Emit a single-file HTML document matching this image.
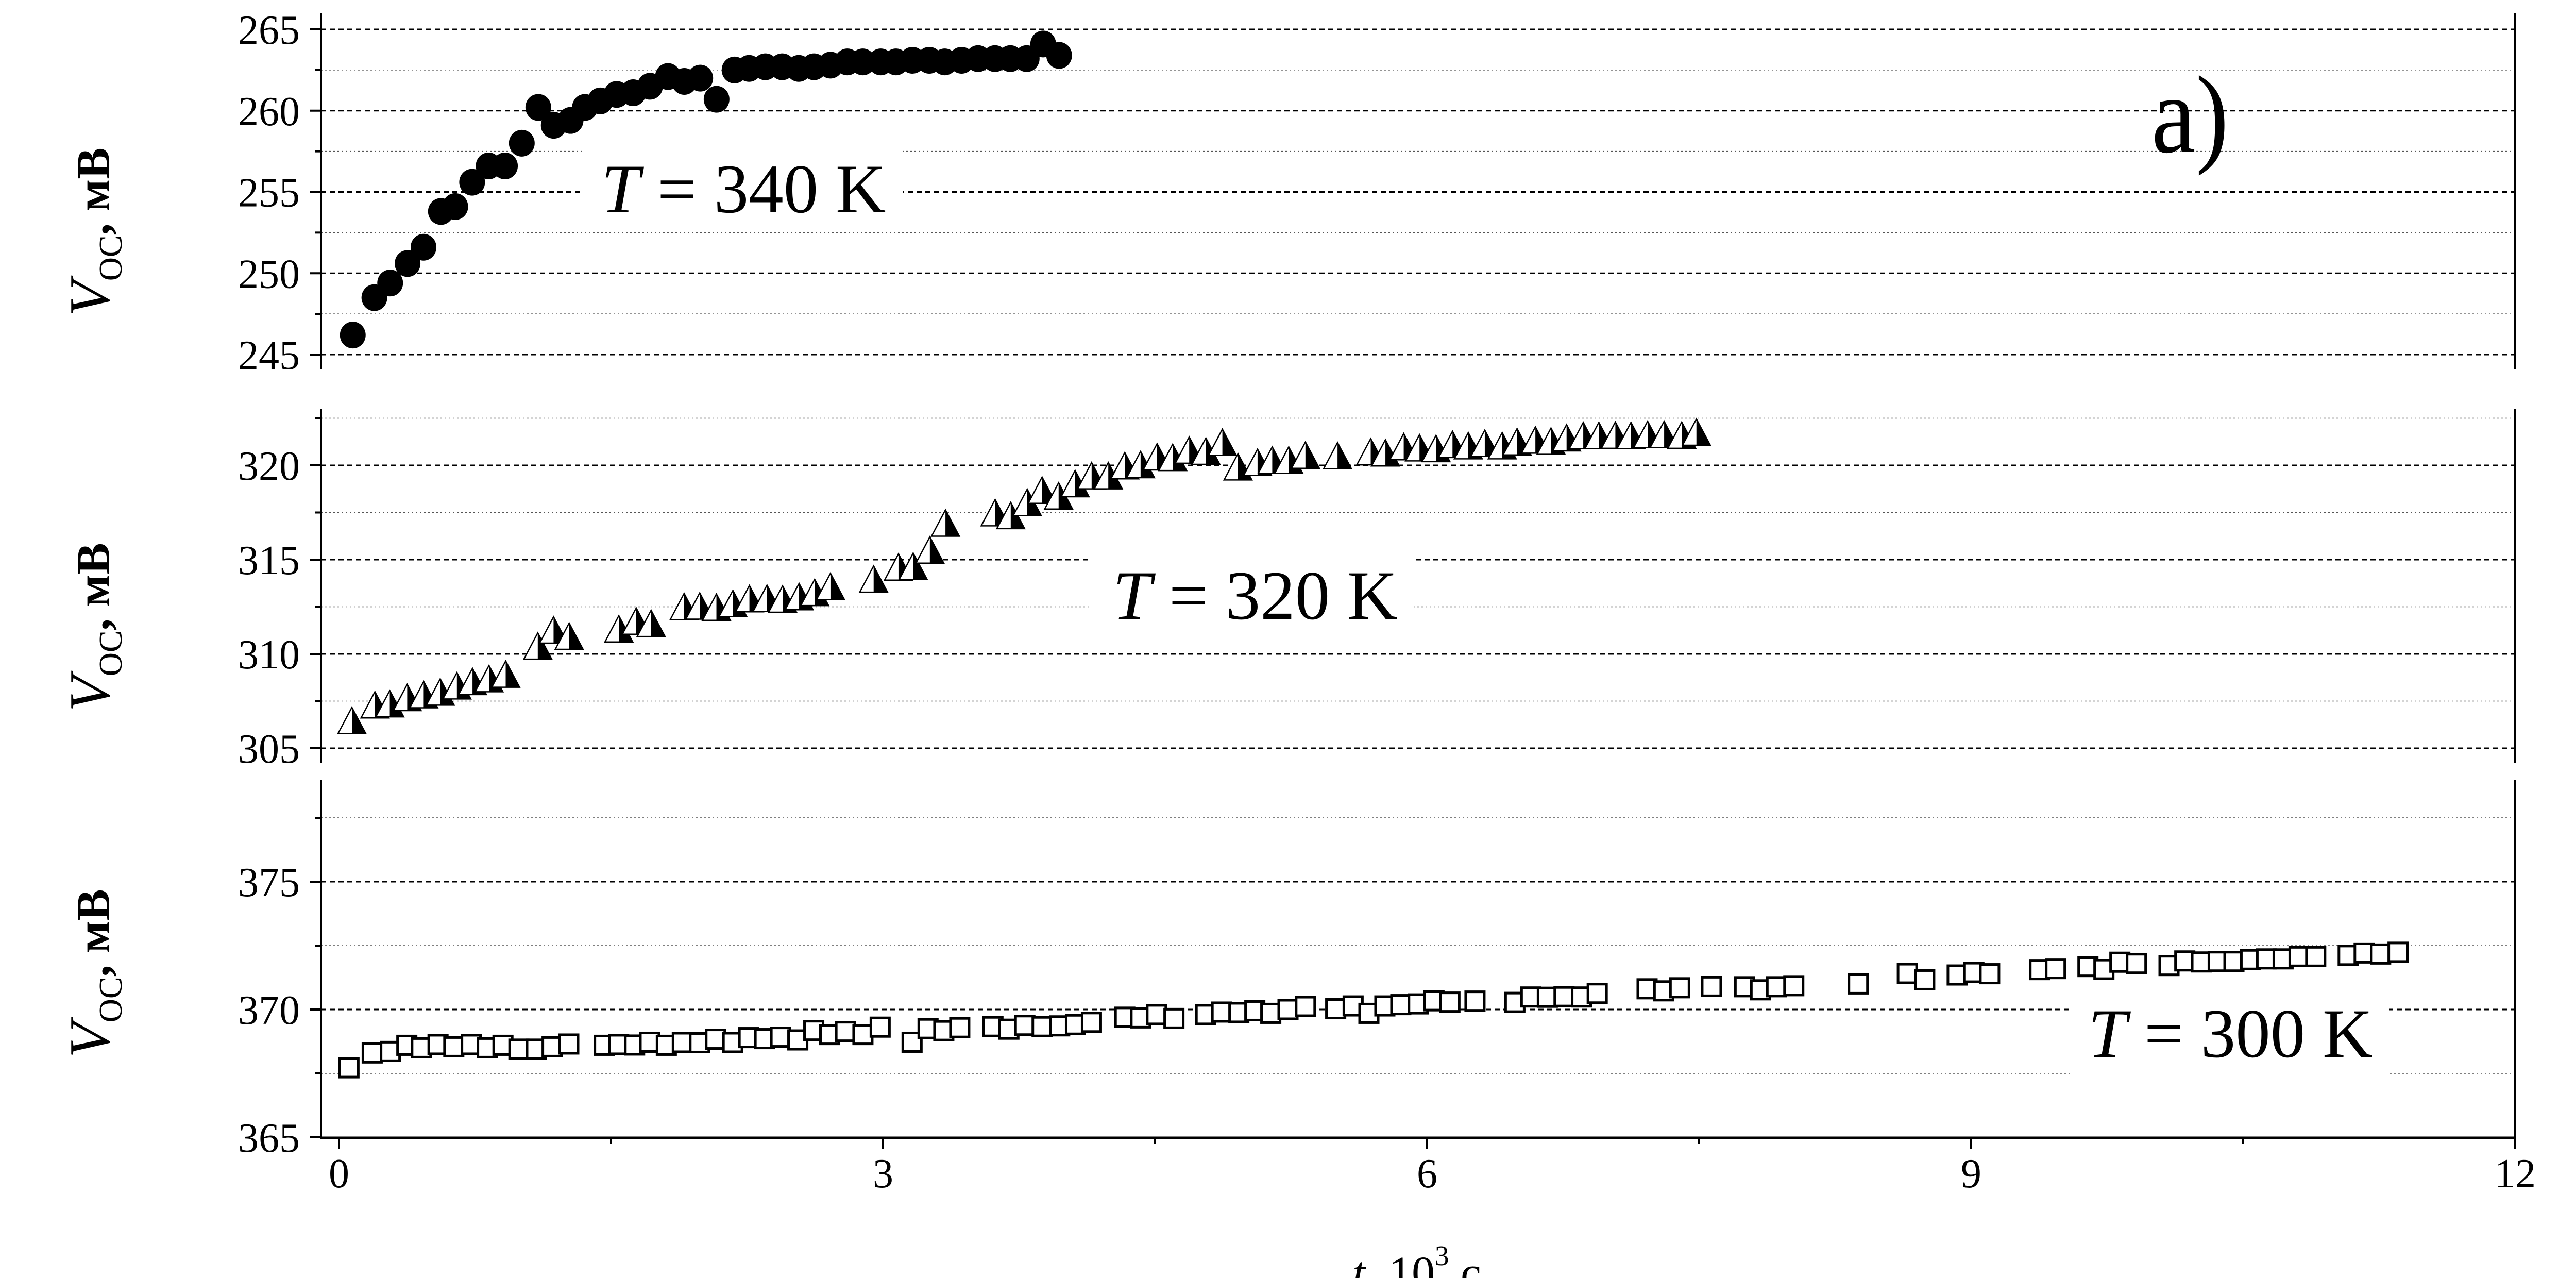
<!DOCTYPE html>
<html><head><meta charset="utf-8"><style>
html,body{margin:0;padding:0;background:#fff;}
svg{display:block;font-family:"Liberation Serif","Noto Serif CJK SC",serif;}
</style></head><body>
<svg id="chart" width="5196" height="2480" viewBox="0 0 5196 2480" xmlns="http://www.w3.org/2000/svg">
<rect x="0" y="0" width="5196" height="2480" fill="#fff"/>
<g id="grid"></g>
<g id="labelbg"></g>
<g id="axes"></g>
<g id="marks"></g>
<g id="texts"></g>
</svg>
<script>
// ---- data ----
const xTicks = [0, 3, 6, 9, 12];
const xTickLabels = ["0", "3", "6", "9", "12"];
const topTicks = [245, 250, 255, 260, 265];
const midTicks = [305, 310, 315, 320];
const botTicks = [365, 370, 375];

const t340 = [0.076,0.195,0.282,0.378,0.466,0.562,0.641,0.734,0.825,0.915,1.008,1.099,1.184,1.277,1.356,1.441,1.531,1.622,1.715,1.814,1.904,1.992,2.082,2.181,2.261,2.351,2.444,2.535,2.619,2.710,2.803,2.888,2.987,3.071,3.162,3.255,3.340,3.433,3.524,3.617,3.702,3.792,3.883,3.971];
const v340 = [246.2,248.5,249.4,250.6,251.6,253.8,254.1,255.6,256.6,256.6,258.0,260.2,259.1,259.4,260.2,260.6,261.0,261.1,261.5,262.1,261.8,262.0,260.7,262.5,262.6,262.7,262.7,262.6,262.7,262.8,263.0,263.0,263.0,263.0,263.1,263.1,263.0,263.1,263.2,263.2,263.2,263.2,264.1,263.4];

const t320 = [0.054,0.181,0.263,0.359,0.45,0.541,0.633,0.719,0.81,0.902,1.079,1.166,1.252,1.526,1.622,1.704,1.886,1.972,2.064,2.155,2.246,2.343,2.429,2.52,2.606,2.693,2.931,3.068,3.149,3.241,3.327,3.601,3.687,3.778,3.86,3.951,4.042,4.133,4.225,4.316,4.403,4.494,4.58,4.671,4.763,4.854,4.94,5.048,5.129,5.22,5.312,5.489,5.672,5.753,5.854,5.941,6.032,6.123,6.21,6.301,6.397,6.479,6.58,6.666,6.752,6.844,6.93,7.021,7.107,7.199,7.29,7.387,7.468];
const v320 = [306.43,307.26,307.32,307.65,307.8,307.94,308.27,308.5,308.65,308.89,310.38,311.23,310.9,311.29,311.7,311.58,312.47,312.5,312.44,312.63,312.89,312.91,312.87,313.0,313.22,313.54,313.93,314.57,314.61,315.47,316.9,317.45,317.3,318.0,318.64,318.34,318.99,319.41,319.41,319.94,320.0,320.41,320.38,320.77,320.71,321.18,319.88,320.12,320.24,320.24,320.5,320.47,320.68,320.62,320.95,320.89,320.85,321.07,321.0,321.13,321.0,321.21,321.3,321.24,321.42,321.54,321.54,321.56,321.54,321.6,321.6,321.56,321.72];

const t300 = [0.055,0.183,0.283,0.374,0.454,0.546,0.633,0.729,0.817,0.904,0.992,1.088,1.175,1.267,1.462,1.542,1.630,1.713,1.805,1.893,1.988,2.076,2.171,2.259,2.347,2.435,2.530,2.618,2.706,2.793,2.889,2.984,3.160,3.248,3.335,3.423,3.606,3.694,3.782,3.877,3.974,4.061,4.149,4.333,4.420,4.508,4.604,4.779,4.867,4.962,5.050,5.138,5.233,5.329,5.496,5.592,5.679,5.767,5.855,5.951,6.038,6.126,6.264,6.484,6.572,6.663,6.755,6.851,6.938,7.213,7.305,7.393,7.568,7.751,7.839,7.927,8.022,8.377,8.648,8.744,8.923,9.015,9.102,9.377,9.465,9.644,9.732,9.820,9.911,10.091,10.178,10.270,10.362,10.449,10.541,10.629,10.720,10.808,10.900,11.079,11.167,11.258,11.354];
const v300 = [367.72,368.3,368.36,368.6,368.5,368.63,368.54,368.63,368.5,368.6,368.45,368.45,368.54,368.65,368.6,368.63,368.61,368.72,368.6,368.71,368.7,368.84,368.71,368.9,368.86,368.92,368.81,369.18,369.02,369.14,369.02,369.31,368.72,369.25,369.17,369.29,369.33,369.23,369.38,369.33,369.36,369.41,369.5,369.7,369.67,369.8,369.65,369.8,369.9,369.88,369.95,369.85,370.0,370.12,370.03,370.14,369.85,370.14,370.19,370.22,370.34,370.29,370.33,370.28,370.49,370.48,370.5,370.49,370.63,370.81,370.73,370.85,370.9,370.89,370.77,370.89,370.93,371.0,371.41,371.16,371.35,371.45,371.4,371.56,371.6,371.68,371.57,371.85,371.8,371.72,371.9,371.86,371.88,371.88,371.95,371.98,371.98,372.07,372.07,372.12,372.21,372.17,372.24];

// ---- layout ----
const NS = "http://www.w3.org/2000/svg";
const X0 = 623, X1 = 4882;
const xs = t => 658 + t * 352.0;
const panels = [
  {name:"panel-340k", v0:265, y0:57, ppu:31.55, top:25, bot:716, ticks:topTicks, minors:[247.5,252.5,257.5,262.5]},
  {name:"panel-320k", v0:320, y0:903, ppu:36.6, top:793, bot:1481, ticks:midTicks, minors:[307.5,312.5,317.5,322.5]},
  {name:"panel-300k", v0:375, y0:1711, ppu:49.6, top:1513, bot:2208, ticks:botTicks, minors:[367.5,372.5,377.5]}
];
const ys = (p, v) => p.y0 + (p.v0 - v) * p.ppu;

function mk(tag, attrs, parent) {
  const e = document.createElementNS(NS, tag);
  for (const k in attrs) e.setAttribute(k, attrs[k]);
  parent.appendChild(e);
  return e;
}
const grid = document.getElementById("grid");
const axes = document.getElementById("axes");
const marks = document.getElementById("marks");
const texts = document.getElementById("texts");
const labelbg = document.getElementById("labelbg");

panels.forEach((p, pi) => {
  p.ticks.forEach(v => {
    const y = ys(p, v);
    const g = mk("line", {x1:X0, x2:X1, y1:y, y2:y, stroke:"#000", "stroke-width":3, "stroke-dasharray":"10 7"}, grid);
    
    
    const tk = mk("line", {x1:X0-22, x2:X0, y1:y, y2:y, stroke:"#000", "stroke-width":4}, axes);
    
    
    const lb = mk("text", {x:582, y:y+28, "text-anchor":"end", "font-size":80, fill:"#000"}, texts);
    lb.textContent = String(v);
    
    
  });
  p.minors.forEach(v => {
    const y = ys(p, v);
    const g = mk("line", {x1:X0, x2:X1, y1:y, y2:y, stroke:"#555", "stroke-width":1.5, "stroke-dasharray":"3 5"}, grid);
    
    
    const tk = mk("line", {x1:X0-11, x2:X0, y1:y, y2:y, stroke:"#000", "stroke-width":4}, axes);
    
    
  });
  const la = mk("line", {x1:X0, x2:X0, y1:p.top, y2:p.bot, stroke:"#000", "stroke-width":4}, axes);
  
  
  const ra = mk("line", {x1:X1, x2:X1, y1:p.top, y2:p.bot, stroke:"#000", "stroke-width":4}, axes);
  
  
});

// bottom x axis
const xa = mk("line", {x1:X0-2, x2:X1+2, y1:2208, y2:2208, stroke:"#000", "stroke-width":5}, axes);


xTicks.forEach((t, i) => {
  const x = xs(t);
  const tk = mk("line", {x1:x, x2:x, y1:2208, y2:2230, stroke:"#000", "stroke-width":4}, axes);
  
  
  const lb = mk("text", {x:x, y:2304, "text-anchor":"middle", "font-size":80}, texts);
  lb.textContent = xTickLabels[i];
  
  
  if (i < xTicks.length - 1) {
    const mx = xs(t + 1.5);
    const mt = mk("line", {x1:mx, x2:mx, y1:2208, y2:2220, stroke:"#000", "stroke-width":4}, axes);
    
    
  }
});

// annotation backgrounds
[[1132,282,620,162],[2120,1062,625,165],[4018,1932,620,152]].forEach(r => {
  const b = mk("rect", {x:r[0], y:r[1], width:r[2], height:r[3], fill:"#fff"}, labelbg);
  
  
});

// series: circles (340 K)
const p0 = panels[0];
t340.forEach((t, i) => {
  const c = mk("ellipse", {cx:xs(t), cy:ys(p0, v340[i]), rx:25, ry:26, fill:"#000"}, marks);
  
  
});
// series: half-filled triangles (320 K)
const p1 = panels[1];
t320.forEach((t, i) => {
  const cx = xs(t) + 6, cy = ys(p1, v320[i]);
  const g = mk("g", {}, marks);
  
  
  mk("polygon", {points:`${cx},${cy-27} ${cx+27},${cy+24} ${cx-27},${cy+24}`, fill:"#fff", stroke:"#000", "stroke-width":2.5}, g);
  mk("polygon", {points:`${cx},${cy-27} ${cx+27},${cy+24} ${cx},${cy+24}`, fill:"#000"}, g);
});
// series: open squares (300 K)
const p2 = panels[2];
t300.forEach((t, i) => {
  const cx = xs(t), cy = ys(p2, v300[i]);
  const s = mk("rect", {x:cx-18, y:cy-18, width:36, height:36, fill:"#fff", stroke:"#000", "stroke-width":5}, marks);
  
  
});
</script>
<script>
(function(){
  const NS = "http://www.w3.org/2000/svg";
  const T = document.getElementById("texts");
  function txt(html, attrs, name){
    const e = document.createElementNS(NS, "text");
    for (const k in attrs) e.setAttribute(k, attrs[k]);
    e.innerHTML = html;
    
    
    T.appendChild(e);
    return e;
  }
  txt('<tspan font-style="italic">T</tspan> = 340 K', {x:1167, y:412, "font-size":135}, 'label-340k');
  txt('<tspan font-style="italic">T</tspan> = 320 K', {x:2160, y:1201, "font-size":135}, 'label-320k');
  txt('<tspan font-style="italic">T</tspan> = 300 K', {x:4053, y:2051, "font-size":135}, 'label-300k');
  txt('a)', {x:4176, y:295, "font-size":215, textLength:150, lengthAdjust:"spacingAndGlyphs"}, 'panel-letter');
  txt('<tspan font-style="italic">t</tspan>, 10<tspan dy="-45" font-size="55">3</tspan><tspan dy="45"> c</tspan>', {x:2750, y:2500, "text-anchor":"middle", "font-size":90}, 'x-axis-title');
  [[450,'y-axis-title-340k'],[1217,'y-axis-title-320k'],[1889,'y-axis-title-300k']].forEach(a => {
    txt('<tspan font-style="italic" font-size="112">V</tspan><tspan font-size="64" dy="24">OC</tspan><tspan dy="-24" font-size="92" font-weight="bold">, мВ</tspan>',
      {x:0, y:0, "text-anchor":"middle", transform:`translate(212,${a[0]}) rotate(-90)`}, a[1]);
  });
})();
</script>
</body></html>
